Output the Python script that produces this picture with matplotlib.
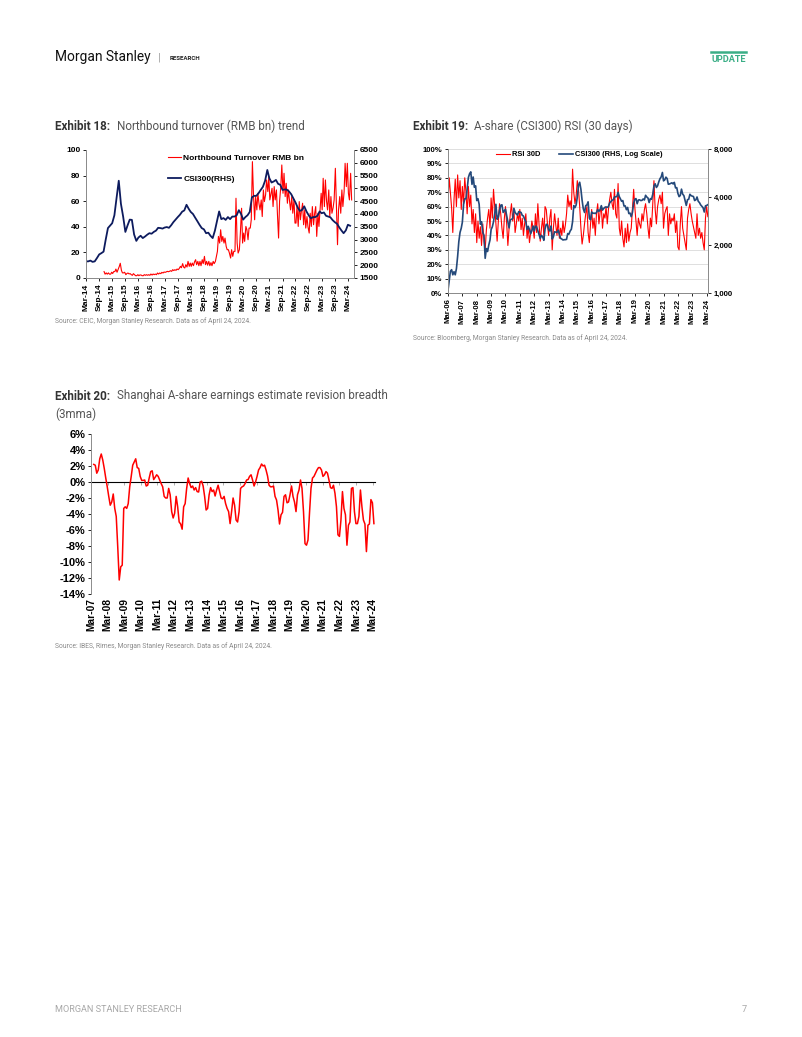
# Morgan Stanley research page 7: Exhibits 18, 19 and 20

import numpy as np
import pandas as pd
import matplotlib
matplotlib.use('Agg')
import matplotlib.pyplot as plt
from matplotlib.lines import Line2D
from matplotlib.ticker import FuncFormatter, NullLocator

W, H = 802, 1037

# ---------------- Exhibit 18: Northbound turnover vs CSI300 ----------------
# CSI300 (RHS), monthly, Mar-14 .. Apr-24
csi_ex18 = [2150, 2150, 2180, 2130, 2150, 2280, 2420, 2470, 2530, 3000,
            3450, 3550, 3640, 3950, 4620, 5300, 4400, 3900, 3300, 3550, 3780, 3770,
            3200, 2950, 3080, 3150, 3060, 3120, 3190, 3250, 3230, 3300, 3350, 3460,
            3450, 3430, 3470, 3490, 3460, 3560, 3680, 3780, 3880, 3970, 4090, 4140,
            4360, 4200, 4080, 4000, 3860, 3720, 3580, 3450, 3400, 3250, 3270, 3150,
            3060, 3350, 3710, 4100, 3800, 3840, 3770, 3880, 3800, 3900, 3900, 3950,
            4150, 4000, 3780, 3880, 3950, 4080, 4650, 4710, 4710, 4810, 4940, 5060,
            5300, 5720, 5400, 5230, 5270, 5330, 5180, 5140, 4940, 4960, 4950, 4880,
            4770, 4600, 4450, 4250, 4120, 4160, 4300, 4100, 3950, 3830, 3880, 3880,
            3930, 4100, 4030, 4060, 3930, 3900, 3870, 3760, 3680, 3620, 3480, 3360,
            3250, 3360, 3580, 3540]

# Northbound turnover (RMB bn), two readings a month, Nov-14 .. Apr-24
nb_turnover = [5, 3, 4, 3,
               4, 3, 3, 4.5, 3.5, 5, 5, 7, 4.5, 6.5, 9, 11.5, 6, 4, 4, 4.5, 2.6, 3.5, 3.9, 3.2, 3.4, 2.6, 2.1, 3.4,
               2.5, 1.8, 1.8, 2.6, 1.8, 2.4, 2.3, 1.8, 1.8, 2.6, 2.1, 2.6, 2.1, 2.6, 2.1, 3.1, 2.3, 3.1, 2.6, 3.1, 2.6, 3.9, 3.1, 3.9,
               3.4, 4.4, 3.9, 4.7, 4.4, 4.7, 5.2, 4.9, 5.2, 5.7, 5.2, 6.5, 5.8, 6.5, 6.0, 7.0, 6.5, 7.5, 9.1, 8.0, 11.2, 8.5, 7.8, 10.4,
               8.6, 13, 9.1, 11.7, 9.1, 11.7, 9.6, 12.5, 14.3, 10.4, 13, 9.6, 13, 9.6, 14.3, 11.2, 16.9, 10.4, 13, 10, 13, 9.6, 12, 9.6,
               13, 11.2, 13, 16.9, 20.8, 32.5, 27.3, 37.7, 28.6, 32.5, 27.3, 31.2, 24.7, 22.1, 22.1, 19.5, 15.6, 22.1, 16.9, 20.8, 20.8, 62.3, 27.3, 19.5,
               22.1, 35, 54.5, 27.3, 35.1, 28.6, 40.3, 37.7, 29.9, 39, 39, 45.5, 90.9, 66.2, 45.5, 63.6, 53.2, 66.2, 58, 53.2, 61, 48, 68.8, 59.7,
               65, 76.6, 67.5, 79.2, 61, 65, 70.1, 55.8, 71.4, 61, 68.8, 50, 31.2, 60, 71.4, 88.3, 66.2, 81.8, 63.6, 74, 58.4, 68.8, 60, 53.2,
               63.6, 50.6, 61, 42.9, 42.9, 55.8, 40.3, 59.7, 45.5, 52, 58.4, 41.6, 53.2, 39, 48, 40, 35.1, 50.6, 40.3, 55.8, 41.6, 50, 55.8, 32.5,
               50.6, 40.3, 55, 66.2, 53.2, 77.9, 55.8, 76.6, 60, 53.2, 68.8, 48, 63.6, 50.6, 55, 61, 85.7, 58.4, 26, 53.2, 63.6, 50.6, 68.8, 55.8,
               67.5, 89.6, 71.4, 89.6, 66.2, 61, 81.8, 61]

# ---------------- Exhibit 19: RSI 30D vs CSI300 (log) ----------------
# monthly, Mar-06 .. Apr-24
rsi_30d = [63, 80, 70, 59, 42, 65, 79, 60, 82, 66,
           78, 58, 74, 62, 80, 70, 55, 74, 60, 68, 48, 58,
           42, 55, 35, 50, 38, 46, 33, 48, 36, 30, 44, 52,
           58, 45, 66, 52, 72, 60, 48, 36, 50, 62, 55, 45,
           38, 52, 60, 48, 33, 45, 55, 62, 50, 58, 42, 48,
           55, 50, 58, 44, 52, 40, 48, 55, 38, 46, 35, 42,
           50, 45, 38, 55, 42, 62, 48, 36, 45, 52, 40, 60,
           58, 48, 40, 52, 58, 30, 45, 55, 47, 40, 52, 38,
           45, 40, 50, 42, 47, 55, 68, 60, 64, 58, 86, 70,
           62, 68, 78, 72, 60, 45, 34, 40, 48, 55, 60, 42,
           35, 48, 58, 45, 52, 40, 55, 62, 48, 56, 60, 45,
           55, 52, 60, 48, 58, 65, 70, 62, 58, 72, 55, 52,
           76, 45, 40, 50, 38, 32, 45, 35, 48, 36, 42, 45,
           58, 72, 60, 50, 40, 52, 48, 45, 55, 50, 58, 62,
           55, 45, 38, 52, 46, 62, 78, 58, 48, 60, 65, 68,
           62, 70, 45, 55, 58, 60, 40, 55, 48, 52, 50, 55,
           42, 50, 32, 30, 48, 60, 45, 40, 35, 30, 52, 58,
           62, 55, 50, 46, 42, 38, 55, 40, 45, 38, 42, 35,
           30, 52, 60, 53]

csi_ex19 = [1040, 1200, 1370, 1400, 1300, 1360, 1300, 1420, 1700, 2100,
            2400, 2550, 2780, 3600, 3900, 3900, 4470, 5300, 5600, 5750, 4800, 5340,
            4600, 4700, 3800, 3900, 3600, 2700, 2800, 2400, 2300, 1650, 1900, 1820,
            2000, 2150, 2500, 2600, 2800, 3150, 3600, 2900, 3000, 3300, 3550, 3575,
            3200, 3280, 3350, 3070, 2800, 2560, 2870, 2900, 2930, 3400, 3200, 3130,
            3080, 3240, 3220, 3200, 3070, 3040, 2900, 2800, 2500, 2620, 2500, 2350,
            2460, 2630, 2450, 2630, 2600, 2460, 2330, 2200, 2300, 2250, 2140, 2520,
            2700, 2670, 2500, 2450, 2630, 2180, 2250, 2420, 2410, 2400, 2480, 2330,
            2200, 2180, 2150, 2160, 2160, 2170, 2360, 2340, 2450, 2510, 2800, 3530,
            3430, 3570, 3990, 4750, 4950, 4470, 3820, 3370, 3200, 3530, 3570, 3730,
            2950, 2880, 3220, 3160, 3170, 3150, 3200, 3330, 3250, 3340, 3530, 3310,
            3390, 3450, 3460, 3440, 3490, 3670, 3740, 3820, 3840, 4000, 4010, 4030,
            4280, 4020, 3900, 3760, 3800, 3510, 3520, 3330, 3440, 3150, 3170, 3010,
            3200, 3670, 3870, 3910, 3630, 3830, 3840, 3800, 3810, 3890, 3830, 4100,
            4000, 3940, 3690, 3910, 3870, 4160, 4700, 4840, 4590, 4700, 4980, 5210,
            5350, 5700, 5050, 5120, 5330, 5220, 4810, 4830, 4870, 4910, 4830, 4940,
            4560, 4580, 4220, 4020, 4090, 4480, 4170, 4080, 3800, 3540, 3850, 3870,
            4160, 4080, 4050, 4030, 3800, 3840, 4000, 3760, 3690, 3570, 3500, 3430,
            3220, 3520, 3540, 3580]

# ---------------- Exhibit 20: revision breadth (3mma, %), May-07 .. Apr-24 ----------------
revision_breadth = [2.2, 2.1, 1.1, 1.5, 2.9, 3.5, 2.75, 1.7, 0.5, -0.6,
                    -1.8, -2.9, -2.5, -1.5, -3.3, -4.3, -8.1, -12.25, -10.6, -10.4,
                    -3.3, -3.1, -3.3, -2.7, -0.6, 0.7, 2.1, 2.5, 2.9, 1.8,
                    1.7, 0.7, 0.2, 0.2, 0.25, -0.5, -0.4, 0.5, 1.3, 1.4,
                    0.3, 0.6, 0.9, 0.7, 0.25, -0.2, -0.6, -1.8, -2.0, -2.0,
                    -0.8, -1.6, -3.7, -4.5, -3.9, -1.8, -3.1, -5.0, -5.25, -5.9,
                    -3.1, -2.7, -0.8, 0.5, -0.2, -0.7, -0.5, -1.0, -0.7, -1.2,
                    -1.25, 0.0, 0.1, -0.5, -1.8, -3.5, -3.3, -1.6, -0.7, -1.2,
                    -1.0, -1.75, -1.0, -0.4, -1.2, -2.0, -2.1, -1.8, -2.7, -3.3,
                    -3.7, -5.2, -3.7, -2.0, -2.9, -4.75, -5.0, -3.7, -0.8, -0.6,
                    -0.5, -0.2, 0.25, 0.3, 0.7, 0.9, 0.25, -0.5, 0.0, 0.7,
                    1.5, 1.8, 2.25, 2.0, 2.1, 1.5, 0.75, -0.4, -0.6, -0.6,
                    -0.5, -1.8, -2.25, -3.5, -5.25, -4.1, -3.8, -1.8, -1.6, -2.6,
                    -2.5, -1.6, -0.5, -1.8, -2.5, -3.7, -1.6, -1.0, 0.25, -0.8,
                    -3.7, -7.7, -7.9, -7.25, -3.9, -0.8, 0.5, 0.7, 1.1, 1.5,
                    1.8, 1.8, 1.5, 0.7, 0.9, 1.3, 1.1, 0.25, -0.7, -0.8,
                    -0.4, -1.4, -3.1, -6.6, -6.8, -4.75, -1.2, -3.3, -4.1, -7.9,
                    -5.4, -5.0, -0.8, -0.7, -3.7, -5.2, -5.2, -4.3, -1.0, -3.1,
                    -4.75, -5.25, -8.7, -5.4, -5.25, -2.2, -2.6, -5.2]

# dates
csi18_dates = pd.date_range('2014-03-01', periods=len(csi_ex18), freq='MS')
nb_dates = pd.date_range('2014-11-01', periods=len(nb_turnover), freq='SMS') + pd.Timedelta(days=7)
ex19_dates = pd.date_range('2006-03-01', periods=len(rsi_30d), freq='MS')
ex20_dates = pd.date_range('2007-05-01', '2024-04-01', periods=len(revision_breadth))

RED = '#ff0000'
NAVY = '#0d1b5e'
STEEL = '#24497a'
AXC = '#8c8c8c'

plt.rcParams['font.family'] = ['Liberation Sans', 'DejaVu Sans']
plt.rcParams['font.weight'] = 'bold'

fig = plt.figure(figsize=(W / 100, H / 100), dpi=100)
fig.patch.set_facecolor('white')


def add_ax(l, t, r, b):
    return fig.add_axes([l / W, 1 - b / H, (r - l) / W, (b - t) / H])


def ftext(x, y, s, **kw):
    kw.setdefault('va', 'center')
    return fig.text(x / W, 1 - y / H, s, **kw)


def style_axes(ax, size):
    ax.tick_params(labelsize=size, colors='black', length=2.5, width=0.6, pad=1.5)
    for sp in ax.spines.values():
        sp.set_color(AXC)
        sp.set_linewidth(0.7)


# ---------------- page header / footer ----------------
ftext(55, 57, 'Morgan Stanley', family='Roboto', fontsize=9.9, fontweight='normal', color='#111111')
ftext(158, 58, '|', family='Roboto', fontsize=8, fontweight='normal', color='#999999')
ftext(170, 58, 'RESEARCH', family='Roboto', fontsize=4.4, fontweight='bold', color='#222222')
ftext(711, 59, 'UPDATE', family='Roboto', fontsize=6.6, fontweight='bold', color='#3aae86')
fig.add_artist(Line2D([711 / W, 746 / W], [1 - 51.5 / H] * 2, color='#3aae86', lw=1.8))
ftext(55, 1009, 'MORGAN STANLEY RESEARCH', family='Roboto', fontsize=6.6, fontweight='normal', color='#a8a8a8')
ftext(742, 1009, '7', family='Roboto', fontsize=6.6, fontweight='normal', color='#a8a8a8')


def exhibit_title(x_bold, x_rest, y, bold, rest):
    ftext(x_bold, y, bold, family='Roboto', fontsize=8.4, fontweight='bold', color='#333333')
    ftext(x_rest, y, rest, family='Roboto', fontsize=8.4, fontweight='normal', color='#555555')


def source(x, y, s):
    ftext(x, y, s, family='Roboto', fontsize=4.9, fontweight='normal', color='#8a8a8a')


# ---------------- Exhibit 18 ----------------
exhibit_title(55, 117, 126, 'Exhibit 18:', 'Northbound turnover (RMB bn) trend')
source(55, 321, 'Source: CEIC, Morgan Stanley Research. Data as of April 24, 2024.')

ax = add_ax(86, 150, 354, 278)
l1, = ax.plot(nb_dates, nb_turnover, color=RED, lw=0.8, label='Northbound Turnover RMB bn')
ax.set_ylim(0, 100)
ax.set_yticks(range(0, 101, 20))
ax2 = ax.twinx()
l2, = ax2.plot(csi18_dates, csi_ex18, color=NAVY, lw=1.3, label='CSI300(RHS)')
ax2.set_ylim(1500, 6500)
ax2.set_yticks(range(1500, 6501, 500))
ticks18 = pd.date_range('2014-03-01', '2024-03-01', freq='6MS')
ax.set_xticks(ticks18)
ax.set_xticklabels([d.strftime('%b-%y') for d in ticks18], rotation=90)
ax.set_xlim(pd.Timestamp('2014-03-01'), pd.Timestamp('2024-05-25'))
for a in (ax, ax2):
    style_axes(a, 6)
    a.spines['top'].set_visible(False)
ax2.legend([l1, l2], [l1.get_label(), l2.get_label()], loc='upper left',
           bbox_to_anchor=((168 - 86) / 268, (278 - 154) / 128), frameon=False,
           fontsize=6, handlelength=1.5, handletextpad=0.35, labelspacing=1.6,
           borderpad=0, borderaxespad=0)

# ---------------- Exhibit 19 ----------------
exhibit_title(413, 474, 126, 'Exhibit 19:', 'A-share (CSI300) RSI (30 days)')
source(413, 338, 'Source: Bloomberg, Morgan Stanley Research. Data as of April 24, 2024.')

bx = add_ax(448, 149, 708, 293)
r1, = bx.plot(ex19_dates, rsi_30d, color=RED, lw=0.8, label='RSI 30D')
bx.set_ylim(0, 100)
bx.set_yticks(range(0, 101, 10))
bx.yaxis.set_major_formatter(FuncFormatter(lambda v, p: f'{v:.0f}%'))
bx.yaxis.grid(True, color='#d9d9d9', lw=0.6)
bx.set_axisbelow(True)
bx2 = bx.twinx()
r2, = bx2.plot(ex19_dates, csi_ex19, color=STEEL, lw=1.2, label='CSI300 (RHS, Log Scale)')
bx2.set_yscale('log')
bx2.set_ylim(1000, 8000)
bx2.set_yticks([1000, 2000, 4000, 8000])
bx2.yaxis.set_major_formatter(FuncFormatter(lambda v, p: f'{v:,.0f}'))
bx2.yaxis.set_minor_locator(NullLocator())
ticks19 = pd.date_range('2006-03-01', '2024-03-01', freq='12MS')
bx.set_xticks(ticks19)
bx.set_xticklabels([d.strftime('%b-%y') for d in ticks19], rotation=90)
bx.set_xlim(pd.Timestamp('2006-03-01'), pd.Timestamp('2024-04-05'))
for a in (bx, bx2):
    style_axes(a, 5.6)
    a.spines['top'].set_visible(False)
bx2.legend([r1, r2], [r1.get_label(), r2.get_label()], loc='upper left', ncol=2,
           bbox_to_anchor=((496 - 448) / 260, (293 - 151) / 144), frameon=False,
           fontsize=5.4, handlelength=1.9, handletextpad=0.3, columnspacing=2.4,
           borderpad=0, borderaxespad=0)

# ---------------- Exhibit 20 ----------------
exhibit_title(55, 117, 396, 'Exhibit 20:', 'Shanghai A-share earnings estimate revision breadth')
ftext(55, 414, '(3mma)', family='Roboto', fontsize=8.4, fontweight='normal', color='#555555')
source(55, 646, 'Source: IBES, Rimes, Morgan Stanley Research. Data as of April 24, 2024.')

cx = add_ax(91, 434, 375, 594)
cx.plot(ex20_dates, revision_breadth, color=RED, lw=1.1)
cx.set_ylim(-14, 6)
cx.set_yticks(range(-14, 7, 2))
cx.yaxis.set_major_formatter(FuncFormatter(lambda v, p: f'{v:.0f}%'))
ticks20 = pd.date_range('2007-03-01', '2024-03-01', freq='12MS')
cx.set_xticks(ticks20)
cx.set_xticklabels([d.strftime('%b-%y') for d in ticks20], rotation=90)
cx.set_xlim(pd.Timestamp('2007-03-01'), pd.Timestamp('2024-04-25'))
style_axes(cx, 8)
cx.tick_params(axis='x', length=0, pad=3, labelsize=7.4)
for s in ('top', 'right', 'bottom'):
    cx.spines[s].set_visible(False)
# zero line with small year ticks
zero = cx.secondary_xaxis(14 / 20)
zero.set_xticks(ticks20)
zero.set_xticklabels([])
zero.tick_params(direction='in', length=2, color='#a0a0a0', width=0.6)
zero.spines['bottom'].set_color('#a0a0a0')
zero.spines['bottom'].set_linewidth(0.8)

fig.savefig('out.png', dpi=100, facecolor='white')
